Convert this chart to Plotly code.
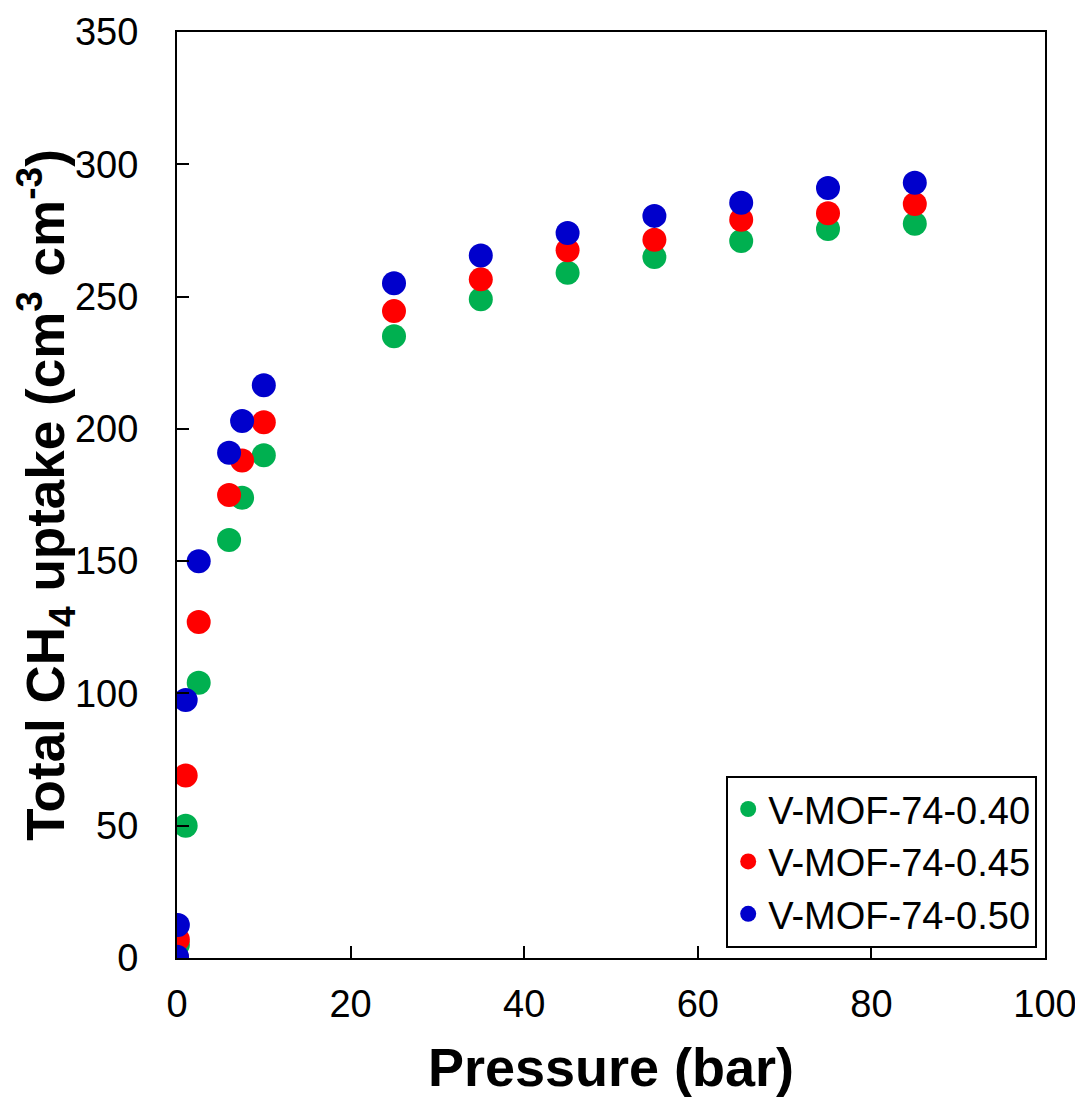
import plotly.graph_objects as go

# Pressure points (bar) shared by all three samples
pressure = [0, 0.1, 1, 2.5, 6, 7.5, 10, 25, 35, 45, 55, 65, 75, 85]

# Total CH4 uptake (cm3 cm-3)
uptake_040 = [0, 5, 50, 104, 158, 174, 190, 235, 249, 259, 265, 271, 275.5, 277.5]
uptake_045 = [0, 7, 69, 127, 175, 188, 202.5, 244.5, 256.5, 267.5, 271.5, 279, 281.5, 285]
uptake_050 = [0.5, 12.5, 97.5, 150, 191, 203, 216.5, 255, 265.5, 274, 280.5, 285.5, 291, 293]

series_names = ['V-MOF-74-0.40', 'V-MOF-74-0.45', 'V-MOF-74-0.50']
series_colors = ['#00B050', '#FF0000', '#0000CC']

FONT = 'Liberation Sans, Arial, sans-serif'

fig = go.Figure()

# Green first, blue last so blue sits on top like in the original
for name, values, color in zip(series_names, [uptake_040, uptake_045, uptake_050], series_colors):
    fig.add_trace(
        go.Scatter(
            x=pressure, y=values, mode='markers', name=name,
            marker=dict(color=color, size=24, line=dict(width=0))))

axis_common = dict(
    showline=True, linecolor='black', linewidth=2, mirror=True,
    ticks='inside', ticklen=12, tickwidth=2, tickcolor='black',
    showgrid=False, zeroline=False, automargin=False,
    tickfont=dict(family=FONT, size=38, color='black'),
)

fig.update_xaxes(
    range=[0, 100], dtick=20, ticklabelstandoff=11,
    title=dict(text='<b>Pressure (bar)</b>', font=dict(family=FONT, size=54, color='black'), standoff=25),
    **axis_common)

fig.update_yaxes(
    range=[0, 350], dtick=50, ticklabelstandoff=29,
    title=dict(text='<b>Total CH<sub>4</sub> uptake (cm<sup>3</sup> cm<sup>-3</sup>)</b>',
               font=dict(family=FONT, size=53, color='black'), standoff=36),
    **axis_common)

# the page body adds an 8px offset on the top/left, so the figure is 8px smaller than the window
fig.update_layout(
    width=1075, height=1092,
    margin=dict(l=169, r=38, t=24, b=142),
    plot_bgcolor='white', paper_bgcolor='white',
    font=dict(family=FONT, color='black'),
    legend=dict(
        x=0.991, y=0.011, xanchor='right', yanchor='bottom',
        bgcolor='white', bordercolor='black', borderwidth=2,
        font=dict(family=FONT, size=38, color='black'),
        itemwidth=30, tracegroupgap=0),
)

fig.write_html('out.html')
